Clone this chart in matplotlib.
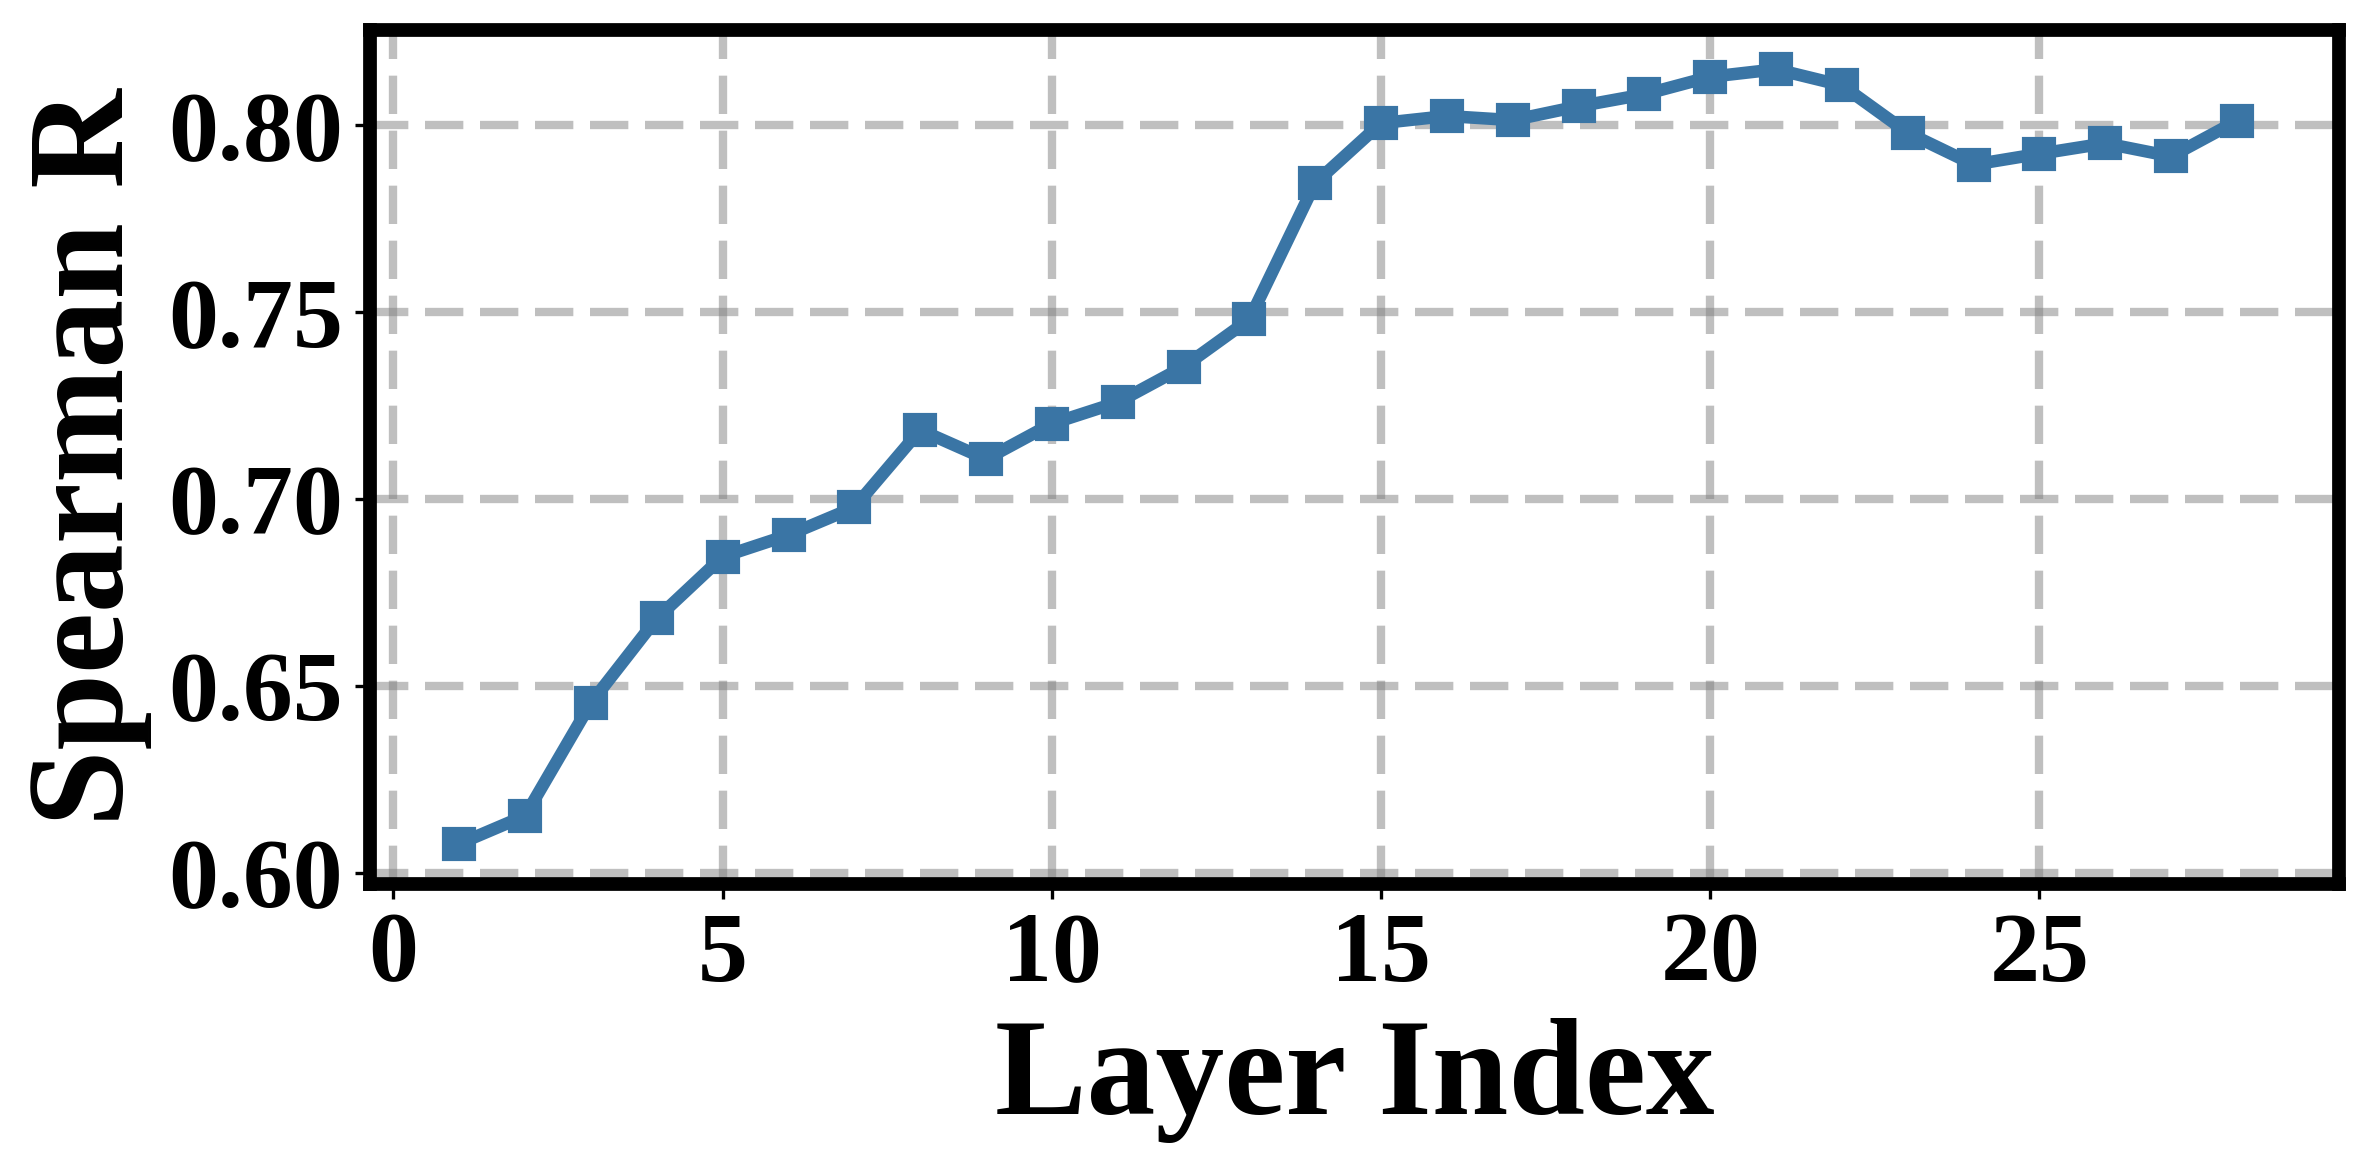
import matplotlib.pyplot as plt

plt.rcParams['font.family'] = ['Liberation Serif', 'DejaVu Serif']
plt.rcParams['font.weight'] = 'bold'

# Spearman R per layer
layers = list(range(1, 29))
spearman_r = [0.6078, 0.6153, 0.6455, 0.6681, 0.6846, 0.6904, 0.6978, 0.7185,
              0.7107, 0.7202, 0.7259, 0.7354, 0.7481, 0.7846, 0.8006, 0.8025,
              0.8014, 0.8051, 0.8083, 0.8130, 0.8150, 0.8107, 0.7980, 0.7895,
              0.7924, 0.7952, 0.7917, 0.8012]

x_ticks = [0, 5, 10, 15, 20, 25]
y_ticks = [0.60, 0.65, 0.70, 0.75, 0.80]

fig = plt.figure(figsize=(2367 / 300, 1165 / 300), dpi=300)
ax = fig.add_axes([0.1565, 0.2408, 0.9882 - 0.1565, 0.9742 - 0.2408])

ax.plot(layers, spearman_r, color='#3a75a5', linewidth=3, marker='s',
        markersize=7.2, markeredgecolor='#3a75a5', zorder=3)

ax.set_xlim(-0.35, 29.55)
ax.set_ylim(0.5969, 0.8255)
ax.set_xticks(x_ticks)
ax.set_yticks(y_ticks)
ax.set_yticklabels([f"{v:.2f}" for v in y_ticks])

# dashed light grey grid
ax.grid(True, color='gray', alpha=0.5, linewidth=2.0, linestyle=(0, (4.6, 2.0)))
ax.set_axisbelow(True)

for s in ax.spines.values():
    s.set_linewidth(3.3)

ax.tick_params(axis='both', labelsize=24, length=3.5, width=0.8, pad=3)
for lbl in ax.get_xticklabels() + ax.get_yticklabels():
    lbl.set_fontweight('bold')

ax.set_xlabel('Layer Index', fontsize=33, fontweight='bold', labelpad=4)
ax.set_ylabel('Spearman R', fontsize=33, fontweight='bold', labelpad=4)

fig.savefig('out.png', dpi=300)
